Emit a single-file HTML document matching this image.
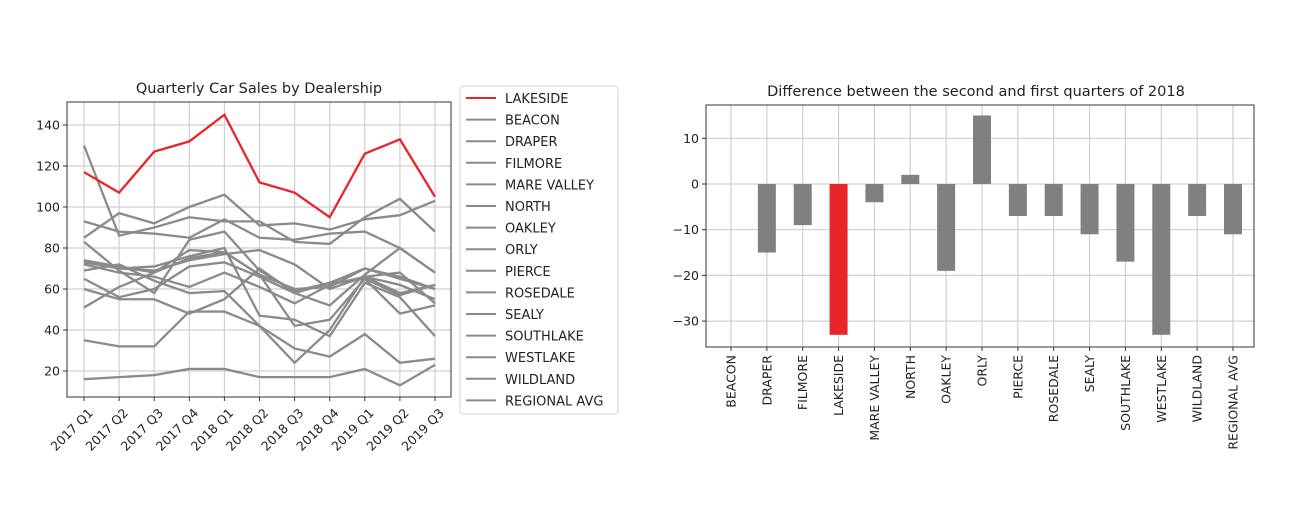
<!DOCTYPE html>
<html><head><meta charset="utf-8"><style>
body{margin:0;background:#fff;}
svg{display:block;font-family:"DejaVu Sans","Liberation Sans",sans-serif;}
</style></head><body>
<svg id="s" width="1290" height="520" xmlns="http://www.w3.org/2000/svg"></svg>
<script>
const quarters=["2017 Q1","2017 Q2","2017 Q3","2017 Q4","2018 Q1","2018 Q2","2018 Q3","2018 Q4","2019 Q1","2019 Q2","2019 Q3"];
const lakeside=[117,107,127,132,145,112,107,95,126,133,105];
const beacon=[130,86,90,95,93,93,83,82,95,104,88];
const draper=[85,97,92,100,106,91,92,89,94,96,103];
const filmore=[93,88,87,85,94,85,84,87,88,80,68];
const mareValley=[16,17,18,21,21,17,17,17,21,13,23];
const north=[74,70,69,74,77,79,72,60,66,62,55];
const oakley=[83,69,58,84,88,69,59,63,70,65,60];
const orly=[60,55,55,48,55,70,58,52,67,80,68];
const pierce=[72,68,66,61,68,61,53,62,66,68,53];
const rosedale=[65,56,60,71,73,66,58,63,65,57,62];
const sealy=[51,61,68,79,78,67,42,45,65,48,52];
const southlake=[69,72,64,58,59,42,24,40,66,58,62];
const westlake=[73,70,71,76,80,47,45,37,63,56,37];
const wildland=[35,32,32,49,49,42,31,27,38,24,26];
const regional=[74,71,68,75,78,67,60,61,70,66,60];
const grayNames=["BEACON","DRAPER","FILMORE","MARE VALLEY","NORTH","OAKLEY","ORLY","PIERCE","ROSEDALE","SEALY","SOUTHLAKE","WESTLAKE","WILDLAND","REGIONAL AVG"];
const grayData=[beacon,draper,filmore,mareValley,north,oakley,orly,pierce,rosedale,sealy,southlake,westlake,wildland,regional];
const yTicksL=[20,40,60,80,100,120,140];
const barCats=["BEACON","DRAPER","FILMORE","LAKESIDE","MARE VALLEY","NORTH","OAKLEY","ORLY","PIERCE","ROSEDALE","SEALY","SOUTHLAKE","WESTLAKE","WILDLAND","REGIONAL AVG"];
const barVals=[0,-15,-9,-33,-4,2,-19,15,-7,-7,-11,-17,-33,-7,-11];
const yTicksR=[-30,-20,-10,0,10];

const svg=document.getElementById('s');
const NS="http://www.w3.org/2000/svg";
function el(t,a,txt){const e=document.createElementNS(NS,t);for(const k in a)e.setAttribute(k,a[k]);if(txt!==undefined)e.textContent=txt;svg.appendChild(e);return e;}

const L={l:67,r:451,t:102,b:397};
const xL=i=>84+i*(435-84)/10;
const yL=v=>125+(140-v)*2.05;
for(let i=0;i<quarters.length;i++){
 const g=el('line',{x1:xL(i),x2:xL(i),y1:L.t,y2:L.b,stroke:'#cfcfcf','stroke-width':1.2});
 
 el('line',{x1:xL(i),x2:xL(i),y1:L.b,y2:L.b+4,stroke:'#333'});
 const x=xL(i)+3,y=L.b+10;
 const t=el('text',{x:x,y:y,'font-size':12.5,fill:'#222','text-anchor':'end','dominant-baseline':'hanging',transform:`rotate(-45 ${x} ${y})`},quarters[i]);
 
}
yTicksL.forEach(v=>{
 const g=el('line',{x1:L.l,x2:L.r,y1:yL(v),y2:yL(v),stroke:'#cfcfcf','stroke-width':1.2});
 
 el('line',{x1:L.l-4,x2:L.l,y1:yL(v),y2:yL(v),stroke:'#333'});
 const t=el('text',{x:L.l-7,y:yL(v)+4.5,'font-size':12.5,fill:'#222','text-anchor':'end'},v);
 
});
grayData.forEach((d,k)=>{
 const p=el('polyline',{points:d.map((v,i)=>xL(i)+','+yL(v)).join(' '),fill:'none',stroke:'#8a8a8a','stroke-width':2.3});
 
 
});
const lk=el('polyline',{points:lakeside.map((v,i)=>xL(i)+','+yL(v)).join(' '),fill:'none',stroke:'#e8262a','stroke-width':2.3});

const fr=el('rect',{x:L.l,y:L.t,width:L.r-L.l,height:L.b-L.t,fill:'none',stroke:'#333','stroke-width':1});

const tl=el('text',{x:(L.l+L.r)/2,y:93,'font-size':14.5,fill:'#222','text-anchor':'middle'},'Quarterly Car Sales by Dealership');

const lb=el('rect',{x:460,y:86,width:158,height:328,rx:3,fill:'#fff',stroke:'#d6d6d6'});

const legNames=["LAKESIDE"].concat(grayNames);
legNames.forEach((n,i)=>{
 const y=98+i*21.6;
 const ln=el('line',{x1:466,x2:496,y1:y,y2:y,stroke:i==0?'#e8262a':'#8a8a8a','stroke-width':2});
 
 const t=el('text',{x:505,y:y+5,'font-size':13,fill:'#222'},n);
 
});

const R={l:706,r:1254,t:105,b:347};
const xR=i=>731+i*(1233-731)/14;
const yR=v=>184-v*4.57;
for(let i=0;i<barCats.length;i++){
 const g=el('line',{x1:xR(i),x2:xR(i),y1:R.t,y2:R.b,stroke:'#cfcfcf','stroke-width':1.2});
 
 el('line',{x1:xR(i),x2:xR(i),y1:R.b,y2:R.b+4,stroke:'#333'});
 const x=xR(i)+4.5,y=R.b+8;
 const t=el('text',{x:x,y:y,'font-size':12.5,fill:'#222','text-anchor':'end',transform:`rotate(-90 ${x} ${y})`},barCats[i]);
 
}
yTicksR.forEach(v=>{
 const g=el('line',{x1:R.l,x2:R.r,y1:yR(v),y2:yR(v),stroke:'#cfcfcf','stroke-width':1.2});
 
 el('line',{x1:R.l-4,x2:R.l,y1:yR(v),y2:yR(v),stroke:'#333'});
 const t=el('text',{x:R.l-7,y:yR(v)+4.5,'font-size':12.5,fill:'#222','text-anchor':'end'},(v<0?'\u2212'+(-v):v));
 
});
barVals.forEach((v,i)=>{
 const y0=Math.min(yR(0),yR(v)),h=Math.abs(yR(v)-yR(0));
 const b=el('rect',{x:xR(i)-9,y:y0,width:18,height:h,fill:barCats[i]=="LAKESIDE"?'#e8262a':'#808080'});
 
 
});
const fr2=el('rect',{x:R.l,y:R.t,width:R.r-R.l,height:R.b-R.t,fill:'none',stroke:'#333','stroke-width':1});

const tr=el('text',{x:(R.l+R.r)/2-4,y:96,'font-size':14.5,fill:'#222','text-anchor':'middle'},'Difference between the second and first quarters of 2018');

</script>
</body></html>
